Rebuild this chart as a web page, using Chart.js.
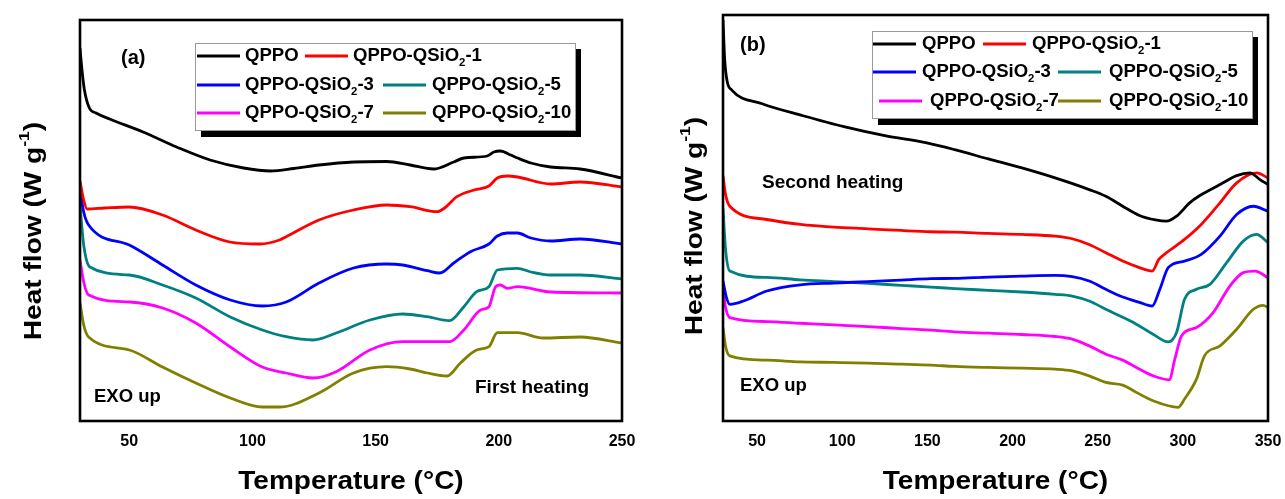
<!DOCTYPE html>
<html>
<head>
<meta charset="utf-8">
<title>DSC curves</title>
<script src="https://cdn.jsdelivr.net/npm/chart.js@4.4.1/dist/chart.umd.min.js"></script>
<style>
  html, body { margin: 0; padding: 0; background: #fff; }
  #wrap { position: relative; width: 1285px; height: 499px; overflow: hidden; }
  canvas { position: absolute; top: 0; }
  #chartA { left: 0; }
  #chartB { left: 640px; }
</style>
</head>
<body>
<div id="wrap">
  <canvas id="chartA" width="640" height="499"></canvas>
  <canvas id="chartB" width="645" height="499"></canvas>
</div>
<script>
// ---- data (heat flow in arbitrary units, exo up) ----
const seriesNames = ['QPPO', 'QPPO-QSiO₂-1', 'QPPO-QSiO₂-3', 'QPPO-QSiO₂-5', 'QPPO-QSiO₂-7', 'QPPO-QSiO₂-10'];
const seriesColors = ['#000000', '#ff0000', '#0000ff', '#008080', '#ff00ff', '#808000'];

const ticksA = [50, 100, 150, 200, 250];
const ticksB = [50, 100, 150, 200, 250, 300, 350];

// (a) first heating
const tA_QPPO = [30, 30.8, 31.8, 33.8, 36.5, 42, 55.6, 69.2, 82.8, 96.4, 107.3, 116.8, 127, 141, 154.5, 164, 173.5, 181.7, 185.8, 195.3, 198, 200.6, 204.8, 207.6, 213, 221, 233, 250];
const hA_QPPO = [373, 351, 331, 313, 308, 302, 289, 274, 261, 253, 250, 252.5, 256, 259, 259.5, 256, 252, 259, 263, 265, 269, 270, 266, 263, 258, 254, 252, 243];

const tA_1 = [30, 31.5, 32.9, 40, 49.9, 63.5, 77, 90.8, 103, 111, 113.7, 127, 141, 154.5, 164, 175, 178, 183, 190, 196, 199.4, 203.5, 207.6, 221, 233, 250];
const hA_1 = [240, 221, 212, 213, 214, 206, 191, 179, 177, 181, 184.3, 201, 211, 216, 214.3, 209.3, 213, 224.3, 231, 235, 243, 245, 244, 237, 239, 234];

const tA_3 = [30, 31.5, 33.5, 50, 63.5, 77, 91, 104, 113.7, 127, 141, 154.5, 161, 171, 176, 181.7, 188.5, 196, 199.4, 203.5, 207.6, 213, 221, 233, 250];
const hA_3 = [231, 209, 196, 176, 156, 136, 121, 115, 119, 138, 153, 157, 156, 150.3, 148, 158, 169.3, 177, 185, 188, 188, 183, 180, 182, 177];

const tA_5 = [30, 31.5, 34, 50, 63.5, 77, 91, 104, 113.7, 124.6, 134, 147.7, 161, 171, 180, 185.8, 191, 196, 199.4, 207.6, 213, 221, 233, 250];
const hA_5 = [216, 176, 154, 146, 136, 123, 104, 91, 84.3, 81, 88, 101, 107, 104.3, 100.3, 114.3, 129.3, 134.3, 151, 152.7, 149, 146, 146, 142];

const tA_7 = [30, 31.5, 33.5, 50, 63.5, 77, 91, 104, 113.7, 124.6, 134, 147.7, 161, 171, 180, 185.8, 192.6, 196, 198.7, 200.6, 203.5, 207.6, 221, 250];
const hA_7 = [161, 139, 126, 119, 113, 98, 74, 54, 48, 43, 49.3, 71, 79.3, 79.3, 79.3, 91, 111, 114.3, 134.3, 136, 132.7, 134.3, 129, 128];

const tA_10 = [30, 31.5, 33.5, 50, 63.5, 77, 91, 104, 111, 127, 141, 154.5, 164, 171, 179, 184.4, 191, 196, 199.4, 207.6, 218, 233, 250];
const hA_10 = [118, 96, 84, 71, 54, 38, 23, 14, 14, 28, 48, 54.3, 52, 48, 45, 58, 71, 74.3, 88.3, 88.3, 83, 84, 78];

// (b) second heating
const tB_QPPO = [30, 31, 32.5, 35, 53, 77, 101, 125, 149, 166, 185.8, 205.5, 225, 245, 254.8, 264.7, 274.5, 284, 290.4, 296.3, 304, 310, 321.8, 331.6, 339.4, 345.3, 350];
const hB_QPPO = [402, 362, 340, 332, 318, 306, 295, 286, 279, 272, 262.7, 253.7, 243.7, 232, 225.3, 215.3, 206, 201.5, 200.3, 205.3, 218.7, 226, 237, 246, 248.7, 242, 237];

const tB_1 = [30, 31.5, 34, 55.7, 75.4, 95, 115, 134.6, 152, 166, 185.8, 205.5, 225, 235, 245, 254.8, 264.7, 274.5, 282, 285.9, 290.4, 301, 310.8, 321.8, 331.6, 343.3, 350];
const hB_1 = [246, 227, 215.3, 202, 197, 194.3, 192.7, 191, 189.7, 189.3, 188, 187, 185.3, 182.7, 177, 168.7, 160.3, 153.7, 150.3, 162, 168.7, 182, 197, 218.7, 238.7, 248.7, 243.7];

const tB_3 = [30, 32, 34, 42, 55.7, 75.4, 95, 115, 134.6, 152, 166, 185.8, 205.5, 225, 235, 245, 254.8, 264.7, 274.5, 282, 286.5, 291.4, 301, 310.8, 321.8, 331.6, 341.4, 350];
const hB_3 = [140.3, 124, 117, 120.3, 130.3, 136.5, 138.3, 139.7, 141.3, 142.7, 143, 144.3, 145.3, 146, 144.7, 140.3, 132, 124.3, 119, 115.3, 132, 153.7, 160.3, 167, 185.3, 207, 215.3, 210.3];

const tB_5 = [30, 31.5, 34, 55.7, 75.4, 95, 115, 134.6, 152, 166, 185.8, 205.5, 225, 235, 245, 254.8, 264.7, 272.7, 282.5, 291.4, 296.3, 301, 308, 315.9, 325.7, 335.5, 343.3, 350];
const hB_5 = [213, 172, 150.3, 144, 141.5, 139.8, 138, 136, 134.3, 132.7, 131, 129.3, 127, 125.3, 120.3, 112, 104, 97, 87, 79.3, 88.7, 122, 132, 137, 158.7, 180.3, 187, 178.7];

const tB_7 = [30, 31.5, 34, 55.7, 75.4, 95, 115, 134.6, 152, 166, 185.8, 205.5, 225, 235, 245, 254.8, 264.7, 272.7, 282.5, 292, 295.3, 299.2, 308, 317.8, 327.6, 335.5, 342.4, 350];
const hB_7 = [133.7, 114, 103.7, 99.7, 98, 96.3, 94.7, 92.7, 91, 89.3, 88, 86.7, 84.7, 82, 75.3, 67, 61, 53.7, 45.3, 41.3, 62, 85.3, 93.7, 108.7, 135.3, 148.7, 150.3, 143.7];

const tB_10 = [30, 31.5, 34, 55.7, 75.4, 95, 115, 134.6, 152, 166, 185.8, 205.5, 225, 235, 245, 254.8, 264.7, 272.7, 282.5, 297.2, 301, 308, 312.7, 321.8, 331.6, 341.4, 347.2, 350];
const hB_10 = [93.7, 75, 65.3, 61, 59.3, 58.7, 58, 57, 56, 54.7, 53.7, 53, 52, 50.3, 45.3, 38.7, 36, 28.7, 20.3, 13.7, 22, 42, 65.3, 75.3, 92, 112, 116, 113.7];

// ---- drawing ----
const FONT = '"Liberation Sans", Arial, Helvetica, sans-serif';

function buildDatasets(temps, flows) {
    return seriesNames.map((name, k) => ({
        label: name,
        data: temps[k].map((t, i) => ({ x: t, y: flows[k][i] })),
        borderColor: seriesColors[k],
        backgroundColor: seriesColors[k],
        borderWidth: 2.8,
        pointRadius: 0,
        fill: false,
        cubicInterpolationMode: 'monotone'
    }));
}

// plain text, a little wider than the font (the figure is stretched sideways)
function drawWide(ctx, text, x, y, size, sx, align) {
    ctx.save();
    ctx.font = `bold ${size}px ${FONT}`;
    ctx.textBaseline = 'middle';
    ctx.textAlign = align || 'left';
    ctx.translate(x, y);
    ctx.scale(sx, 1);
    ctx.fillText(text, 0, 0);
    ctx.restore();
}

// text with the "₂" drawn as a real subscript
function drawRich(ctx, text, x, y, size, sx) {
    const parts = text.split('₂');
    ctx.save();
    ctx.translate(x, y);
    ctx.scale(sx, 1);
    ctx.textBaseline = 'middle';
    ctx.textAlign = 'left';
    ctx.font = `bold ${size}px ${FONT}`;
    ctx.fillText(parts[0], 0, 0);
    let cx = ctx.measureText(parts[0]).width;
    if (parts.length > 1) {
        ctx.font = `bold ${Math.round(size * 0.62)}px ${FONT}`;
        ctx.fillText('2', cx, size * 0.38);
        cx += ctx.measureText('2').width;
        ctx.font = `bold ${size}px ${FONT}`;
        ctx.fillText(parts[1], cx, 0);
    }
    ctx.restore();
}

function decorPlugin(cfg) {
    return {
        id: 'decor',
        afterDatasetsDraw(chart) {
            const { ctx, chartArea: a } = chart;
            ctx.save();
            // plot frame
            ctx.strokeStyle = '#000';
            ctx.lineWidth = 2.6;
            ctx.strokeRect(a.left, a.top, a.right - a.left, a.bottom - a.top);

            // legend box with heavy shadow
            const b = cfg.box;
            ctx.fillStyle = '#000';
            ctx.fillRect(b.x + 6, b.y + 6, b.w, b.h + 1);
            ctx.fillStyle = '#fff';
            ctx.fillRect(b.x, b.y, b.w, b.h);
            ctx.strokeStyle = '#999';
            ctx.lineWidth = 1;
            ctx.strokeRect(b.x + 0.5, b.y + 0.5, b.w, b.h);

            const ds = chart.data.datasets;
            cfg.entries.forEach(e => {
                ctx.strokeStyle = ds[e.i].borderColor;
                ctx.lineWidth = 2.8;
                ctx.beginPath();
                ctx.moveTo(e.lx, e.y);
                ctx.lineTo(e.lx + 43, e.y);
                ctx.stroke();
                ctx.fillStyle = '#000';
                drawRich(ctx, ds[e.i].label, e.tx, e.y, 18, 1.03);
            });

            // annotations
            ctx.fillStyle = '#000';
            cfg.notes.forEach(n => drawWide(ctx, n.t, n.x, n.y, n.size, 1));

            // x axis title
            drawWide(ctx, 'Temperature (°C)', (a.left + a.right) / 2, 482, 25, 1.12, 'center');

            // y axis title, rotated, with superscript -1
            ctx.translate(cfg.yx, cfg.yy);
            ctx.rotate(-Math.PI / 2);
            ctx.scale(1.17, 1);
            ctx.textBaseline = 'middle';
            ctx.textAlign = 'left';
            const big = `bold 24px ${FONT}`, small = `bold 15px ${FONT}`;
            ctx.font = big;
            const w1 = ctx.measureText('Heat flow (W g').width;
            const w3 = ctx.measureText(')').width;
            ctx.font = small;
            const w2 = ctx.measureText('-1').width;
            let x = -(w1 + w2 + w3) / 2;
            ctx.font = big;
            ctx.fillText('Heat flow (W g', x, 0);
            x += w1;
            ctx.font = small;
            ctx.fillText('-1', x, -9);
            x += w2;
            ctx.font = big;
            ctx.fillText(')', x, 0);
            ctx.restore();
        }
    };
}

function makeChart(id, datasets, xMin, xMax, yMax, tickVals, pad, cfg) {
    const ctx = document.getElementById(id).getContext('2d');
    return new Chart(ctx, {
        type: 'line',
        data: { datasets: datasets },
        options: {
            responsive: false,
            animation: false,
            devicePixelRatio: 1,
            layout: { padding: pad },
            plugins: { legend: { display: false }, tooltip: { enabled: false } },
            scales: {
                x: {
                    type: 'linear',
                    min: xMin,
                    max: xMax,
                    afterBuildTicks: s => { s.ticks = tickVals.map(v => ({ value: v })); },
                    afterFit: s => { s.height = 78; },
                    grid: { display: false, drawTicks: true, tickLength: 8 },
                    border: { display: false },
                    ticks: { padding: 3, color: '#000', font: { family: FONT, size: 16, weight: 'bold' } },
                    title: { display: false }
                },
                y: { display: false, min: 0, max: yMax }
            }
        },
        plugins: [decorPlugin(cfg)]
    });
}

const chartA = makeChart('chartA',
    buildDatasets([tA_QPPO, tA_1, tA_3, tA_5, tA_7, tA_10], [hA_QPPO, hA_1, hA_3, hA_5, hA_7, hA_10]),
    30, 250, 401, ticksA,
    { left: 80, right: 18, top: 20, bottom: 0 },
    {
        box: { x: 195, y: 43, w: 380, h: 87 },
        entries: [
            { i: 0, lx: 197, tx: 245, y: 56 }, { i: 1, lx: 305, tx: 353, y: 56 },
            { i: 2, lx: 197, tx: 245, y: 85 }, { i: 3, lx: 383, tx: 432, y: 85 },
            { i: 4, lx: 197, tx: 245, y: 113 }, { i: 5, lx: 383, tx: 432, y: 113 }
        ],
        notes: [
            { t: '(a)', x: 121, y: 58, size: 20 },
            { t: 'EXO up', x: 94, y: 397, size: 18.5 },
            { t: 'First heating', x: 475, y: 388, size: 19 }
        ],
        yx: 34, yy: 231
    });

const chartB = makeChart('chartB',
    buildDatasets([tB_QPPO, tB_1, tB_3, tB_5, tB_7, tB_10], [hB_QPPO, hB_1, hB_3, hB_5, hB_7, hB_10]),
    30, 350, 407, ticksB,
    { left: 83, right: 17, top: 15, bottom: 0 },
    {
        box: { x: 232, y: 31, w: 380, h: 87 },
        entries: [
            { i: 0, lx: 233, tx: 282, y: 44 }, { i: 1, lx: 343, tx: 392, y: 44 },
            { i: 2, lx: 233, tx: 282, y: 72 }, { i: 3, lx: 418, tx: 469, y: 72 },
            { i: 4, lx: 239, tx: 290, y: 101 }, { i: 5, lx: 418, tx: 469, y: 101 }
        ],
        notes: [
            { t: '(b)', x: 100, y: 45, size: 20 },
            { t: 'Second heating', x: 122, y: 183, size: 19 },
            { t: 'EXO up', x: 100, y: 386, size: 18.5 }
        ],
        yx: 55, yy: 226
    });
</script>
</body>
</html>
